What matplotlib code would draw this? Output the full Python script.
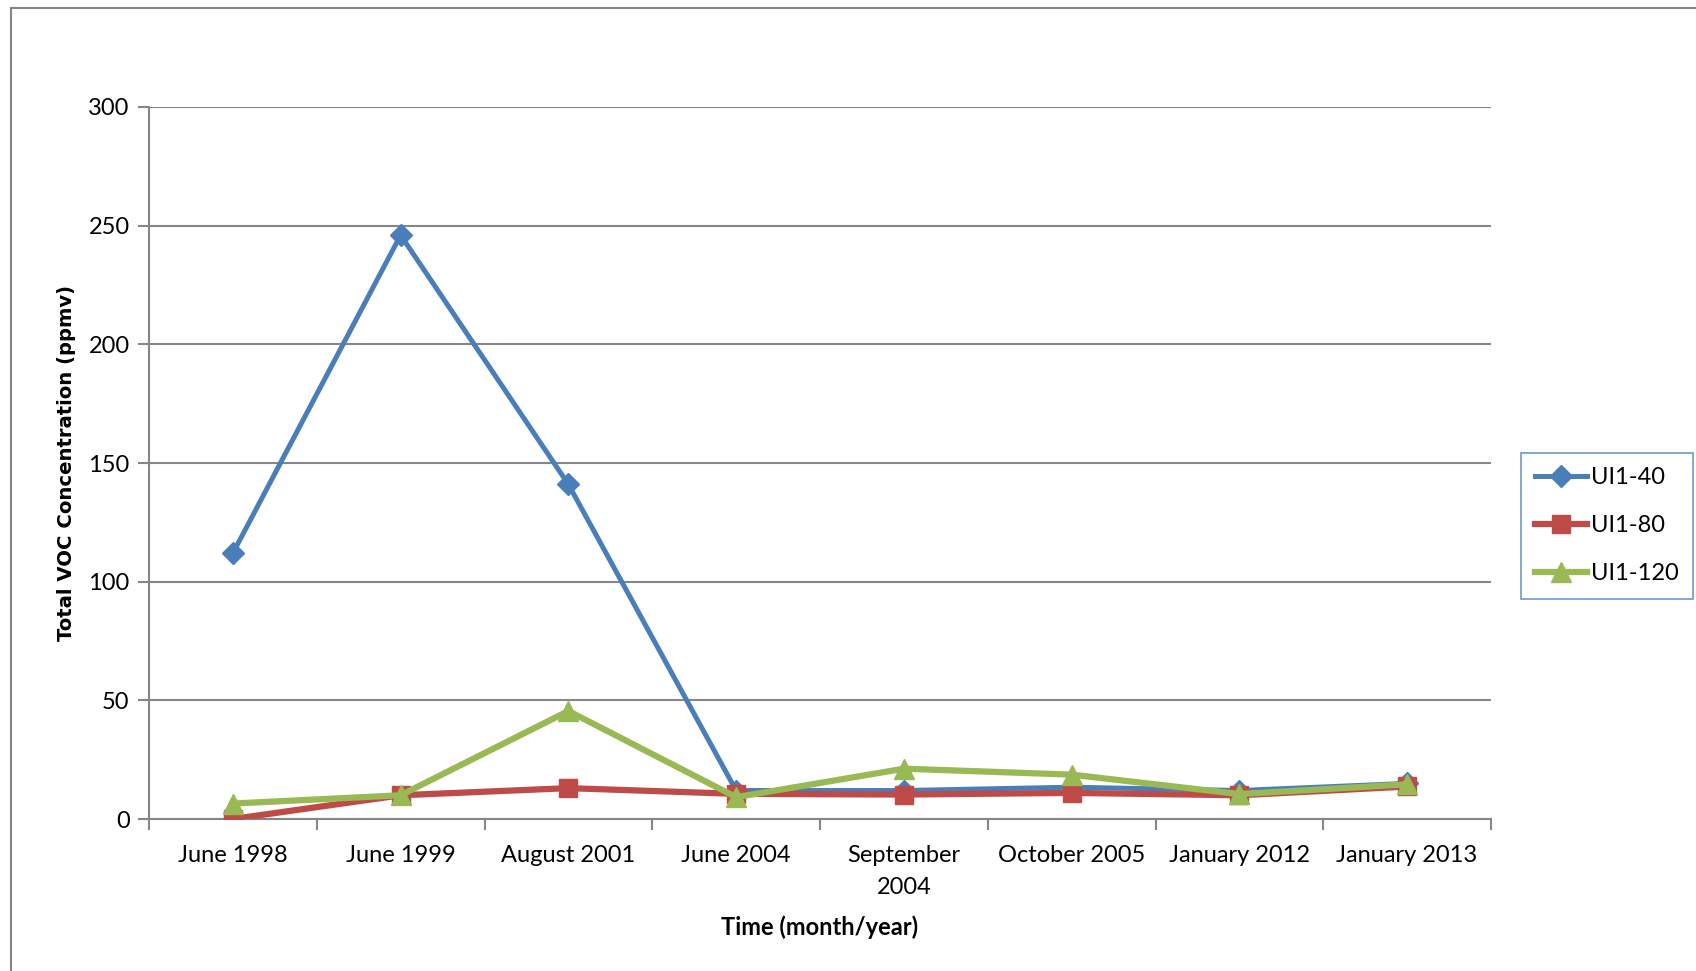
import matplotlib
matplotlib.use("Agg")
import matplotlib.pyplot as plt
from matplotlib.lines import Line2D
import numpy as np

categories = ["June 1998", "June 1999", "August 2001", "June 2004",
              "September\n2004", "October 2005", "January 2012", "January 2013"]
ui1_40 = [112, 246, 141, 12, 12, 13.4, 12, 15]
ui1_80 = [0, 10, 13, 10.6, 10.3, 11, 10, 13.7]
ui1_120 = [6.5, 10, 45.5, 9.2, 21.2, 18.7, 10.5, 14.6]
yticks = [0, 50, 100, 150, 200, 250, 300]

FONT = "Lato"
blue = "#4A7EBB"
red = "#BE4B48"
green = "#98B954"
grid_c = "#868686"

fig = plt.figure(figsize=(16.96, 9.71), dpi=100)
ax = fig.add_axes([149/1696, 1 - 819/971, (1491-149)/1696, (819-107)/971])

x = np.arange(len(categories))
ax.plot(x, ui1_40, color=blue, lw=3.6, marker="D", ms=11, zorder=3, label="UI1-40")
ax.plot(x, ui1_80, color=red, lw=4.5, marker="s", ms=13, zorder=4, label="UI1-80")
ax.plot(x, ui1_120, color=green, lw=4.5, marker="^", ms=14, zorder=5, label="UI1-120")

ax.set_xlim(-0.5, len(categories) - 0.5)
ax.set_ylim(0, 300)
ax.set_yticks(yticks)
ax.set_yticklabels([str(v) for v in yticks], fontsize=17, family=FONT)
ax.yaxis.grid(True, color=grid_c, lw=1.5)
ax.set_axisbelow(True)

ax.set_xticks(np.arange(len(categories) + 1) - 0.5)
ax.set_xticklabels([])
ax.set_xticks(x, minor=True)
ax.set_xticklabels(categories, minor=True, fontsize=17, family=FONT, linespacing=1.65)
ax.tick_params(axis="x", which="major", length=8, width=1.5, color=grid_c, direction="out")
ax.tick_params(axis="x", which="minor", length=0, pad=19)
ax.tick_params(axis="y", length=8, width=1.5, color=grid_c, pad=6)
for s in ["top", "right"]:
    ax.spines[s].set_visible(False)
for s in ["left", "bottom"]:
    ax.spines[s].set_color(grid_c)
    ax.spines[s].set_linewidth(1.5)

ax.set_xlabel("Time (month/year)", fontsize=17, fontweight="bold", family=FONT, labelpad=12)
ax.set_ylabel("Total VOC Concentration (ppmv)", fontsize=14.1, fontweight="bold",
              family="DejaVu Sans", labelpad=9)

leg = ax.legend(loc="upper left", bbox_to_anchor=(1521/1696, 1 - 453/971),
                bbox_transform=fig.transFigure, frameon=True, fancybox=False,
                prop={"family": FONT, "size": 17}, handlelength=2.2, handletextpad=0.15,
                labelspacing=1.15, borderpad=0.6, borderaxespad=0)
leg.get_frame().set_edgecolor(blue)
leg.get_frame().set_linewidth(1.2)

# outer chart border (left and top visible)
fig.add_artist(Line2D([11/1696, 11/1696], [0, 1 - 8/971], transform=fig.transFigure,
                      color=grid_c, lw=1.5))
fig.add_artist(Line2D([11/1696, 1], [1 - 8/971, 1 - 8/971], transform=fig.transFigure,
                      color=grid_c, lw=1.5))

fig.savefig("out.png", dpi=100)
